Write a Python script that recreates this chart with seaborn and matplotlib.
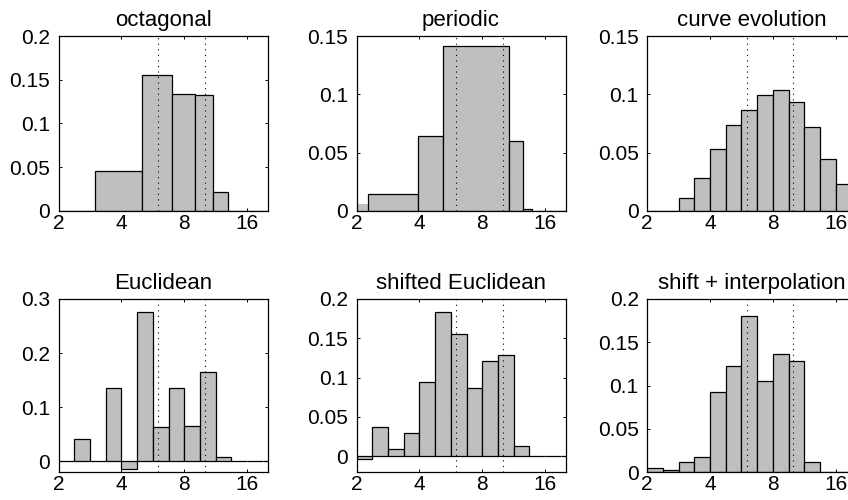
import matplotlib
matplotlib.use("Agg")
import matplotlib.pyplot as plt
import numpy as np
import seaborn as sns
from matplotlib.ticker import NullLocator

# bin edges (data units) and bar heights
QUARTER_EDGES = [2, 2.38, 2.83, 3.36, 4, 4.76, 5.66, 6.73, 8, 9.51, 11.31,
                 13.45, 16, 19.03, 22.63]

OCT_EDGES = [2, 3, 5, 7, 9, 11, 13, 16, 20]
OCT_VALUES = [0, 0.046, 0.155, 0.134, 0.132, 0.022, 0, 0]

PER_EDGES = [1.9, 2.26, 3.94, 5.2, 10.7, 12.46, 13.86, 20]
PER_VALUES = [0.0063, 0.0149, 0.0644, 0.1417, 0.0601, 0.0014, 0]

CURVE_VALUES = [0, 0, 0.0115, 0.0287, 0.0532, 0.0733, 0.0868, 0.0994,
                0.1034, 0.0934, 0.0718, 0.0445, 0.0229, 0.011]
EUCL_VALUES = [0, 0.0406, 0, 0.1356, -0.015, 0.276, 0.0638, 0.136,
               0.0656, 0.165, 0.0075, 0, 0, 0]
SHIFT_VALUES = [-0.004, 0.0374, 0.0094, 0.0298, 0.094, 0.184, 0.155,
                0.0864, 0.1217, 0.129, 0.0136, 0, 0, 0]
INTERP_VALUES = [0.0045, 0.0025, 0.011, 0.0176, 0.093, 0.1227, 0.180,
                 0.105, 0.136, 0.128, 0.0117, 0, 0, 0]

TITLES = ["octagonal", "periodic", "curve evolution",
          "Euclidean", "shifted Euclidean", "shift + interpolation"]
X_TICKS = [2, 4, 8, 16]
MARKERS = [6, 10]   # dotted reference lines

PANELS = [
    (OCT_EDGES, OCT_VALUES, (0, 0.2), [0, 0.05, 0.1, 0.15, 0.2]),
    (PER_EDGES, PER_VALUES, (0, 0.15), [0, 0.05, 0.1, 0.15]),
    (QUARTER_EDGES, CURVE_VALUES, (0, 0.15), [0, 0.05, 0.1, 0.15]),
    (QUARTER_EDGES, EUCL_VALUES, (-0.02, 0.3), [0, 0.1, 0.2, 0.3]),
    (QUARTER_EDGES, SHIFT_VALUES, (-0.02, 0.2), [0, 0.05, 0.1, 0.15, 0.2]),
    (QUARTER_EDGES, INTERP_VALUES, (0, 0.2), [0, 0.05, 0.1, 0.15, 0.2]),
]

sns.set_theme(style="ticks")
plt.rcParams["font.family"] = ["Liberation Sans", "DejaVu Sans"]

BAR = "#bfbfbf"
W, H = 848, 500
COL_LEFT = [58.5, 356.5, 647]
ROW_TOP = [(36, 211), (299, 472)]
AX_W = 209

fig = plt.figure(figsize=(W / 100, H / 100), dpi=100)

for i, (edges, values, ylim, yticks) in enumerate(PANELS):
    r, c = divmod(i, 3)
    top, bottom = ROW_TOP[r]
    ax = fig.add_axes([COL_LEFT[c] / W, 1 - bottom / H,
                       AX_W / W, (bottom - top) / H])
    ax.set_xscale("log", base=2)

    edges = np.asarray(edges, dtype=float)
    centers = np.sqrt(edges[:-1] * edges[1:])
    # seaborn bins in the axis' transformed (log2) space
    bins = ax.xaxis.get_transform().transform(edges).tolist()
    sns.histplot(x=centers, weights=values, bins=bins, ax=ax,
                 color=BAR, edgecolor="black", linewidth=0.9, alpha=1)
    if i == 1:
        # first periodic bar is drawn without an outline
        ax.patches[0].set_edgecolor("none")

    for m in MARKERS:
        ax.axvline(m, color="black", linestyle=(0, (1, 4)), linewidth=0.8)

    ax.set_xlim(2, 20)
    ax.set_ylim(*ylim)
    ax.set_xticks(X_TICKS)
    ax.set_xticklabels([str(t) for t in X_TICKS])
    ax.xaxis.set_minor_locator(NullLocator())
    ax.set_yticks(yticks)
    ax.set_yticklabels([f"{t:g}" for t in yticks])
    ax.set_xlabel("")
    ax.set_ylabel("")
    ax.set_title(TITLES[i], fontsize=16, pad=7.5, color="black")

    ax.tick_params(axis="both", direction="in", length=2.5, width=0.7,
                   top=True, right=True, labelsize=15, colors="black")
    ax.tick_params(axis="x", pad=2)
    ax.tick_params(axis="y", pad=6)
    for s in ax.spines.values():
        s.set_visible(True)
        s.set_color("black")
        s.set_linewidth(0.9)

fig.savefig("out.png", dpi=100)
